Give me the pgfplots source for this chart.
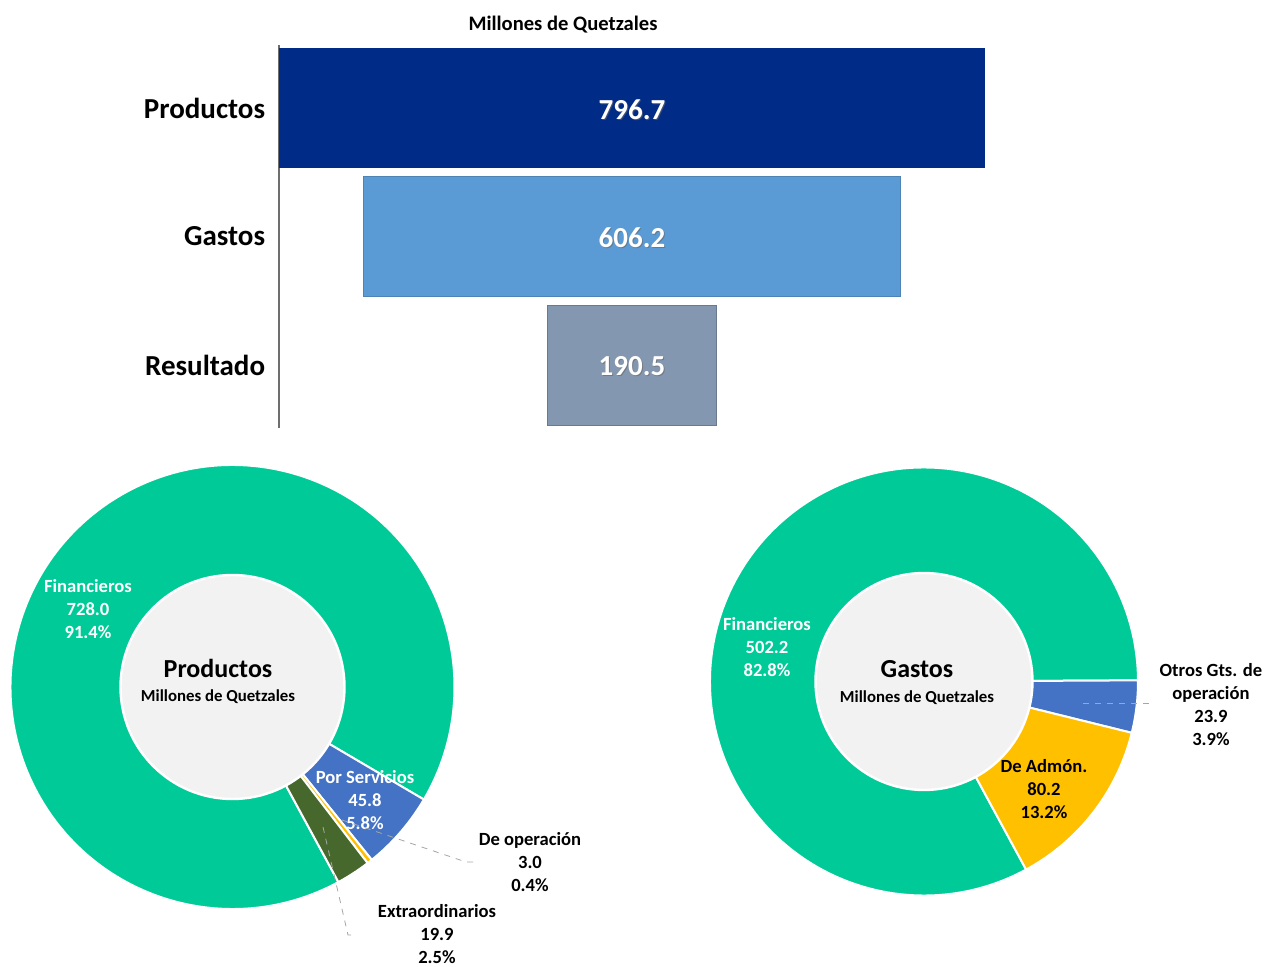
\documentclass[border=0pt]{standalone}
\usepackage{pgfplots}
\pgfplotsset{compat=1.18}
\usepackage{pgfplotstable}
\usepackage{fontspec}
\setmainfont{Carlito}

\definecolor{navy}{RGB}{0,43,135}
\definecolor{lightblue}{RGB}{91,155,213}
\definecolor{slate}{RGB}{132,151,176}
\definecolor{axisgray}{RGB}{110,110,110}
\definecolor{mint}{RGB}{0,203,152}
\definecolor{royal}{RGB}{68,114,196}
\definecolor{amber}{RGB}{255,192,0}
\definecolor{olive}{RGB}{70,104,44}
\definecolor{innergray}{RGB}{242,242,242}

% funnel: one column per bar so that the stacked bars line up by index
\pgfplotstableread{
y total prod gast res
0 796.7 796.7 0 0
1 606.2 0 606.2 0
2 190.5 0 0 190.5
}\funnel

\pgfplotstableread{
label value
Financieros 728.0
Servicios 45.8
Operacion 3.0
Extraordinarios 19.9
}\productos

\pgfplotstableread{
label value
Financieros 502.2
Otros 23.9
Admon 80.2
}\gastos

\newcommand\donutslice[4]{% colour, start angle, end angle, radius
  \fill[#1, draw=white, line width=1pt] (axis cs:0,0) -- ++(#2:#4)
    arc[start angle=#2, end angle=#3, radius=#4] -- cycle;}

\begin{document}
\begin{tikzpicture}
% ---- angles for the two donuts (clockwise from -61.5 deg) ----
\pgfplotstablegetelem{0}{value}\of\productos \let\pa\pgfplotsretval
\pgfplotstablegetelem{1}{value}\of\productos \let\pb\pgfplotsretval
\pgfplotstablegetelem{2}{value}\of\productos \let\pc\pgfplotsretval
\pgfplotstablegetelem{3}{value}\of\productos \let\pd\pgfplotsretval
\pgfmathsetmacro\ptot{\pa+\pb+\pc+\pd}
\pgfmathsetmacro\pAa{-61.5}
\pgfmathsetmacro\pAb{\pAa-360*(\pa/\ptot)}
\pgfmathsetmacro\pAc{\pAb-360*(\pb/\ptot)}
\pgfmathsetmacro\pAd{\pAc-360*(\pc/\ptot)}
\pgfmathsetmacro\pAe{\pAd-360*(\pd/\ptot)}

\pgfplotstablegetelem{0}{value}\of\gastos \let\ga\pgfplotsretval
\pgfplotstablegetelem{1}{value}\of\gastos \let\gb\pgfplotsretval
\pgfplotstablegetelem{2}{value}\of\gastos \let\gc\pgfplotsretval
\pgfmathsetmacro\gtot{\ga+\gb+\gc}
\pgfmathsetmacro\gAa{-61.5}
\pgfmathsetmacro\gAb{\gAa-360*(\ga/\gtot)}
\pgfmathsetmacro\gAc{\gAb-360*(\gb/\gtot)}
\pgfmathsetmacro\gAd{\gAc-360*(\gc/\gtot)}

% ---- funnel ----
\node[font=\fontsize{10.3}{12}\selectfont\bfseries] at (281.5pt,-12.5pt) {Millones de Quetzales};
\begin{axis}[
    at={(139.25pt,-214pt)}, anchor=south west,
    scale only axis, width=353.25pt, height=191.5pt,
    xbar stacked, bar width=60pt,
    xmin=0, xmax=796.7, ymin=-0.49, ymax=2.49, y dir=reverse,
    axis y line*=left, axis x line=none,
    y axis line style={draw=axisgray, line width=1pt},
    ytick={0,1,2}, yticklabels={Productos,Gastos,Resultado},
    major tick length=0pt,
    yticklabel style={font=\fontsize{14.5}{17}\selectfont\bfseries, inner sep=0pt, xshift=-6.5pt},
    clip=false,
  ]
  \addplot[draw=none, fill=none] table[y=y, x expr={(796.7-\thisrow{total})/2}] {\funnel};
  \addplot[draw=none, fill=navy] table[y=y, x=prod] {\funnel};
  \addplot[draw=lightblue!85!black, line width=0.4pt, fill=lightblue] table[y=y, x=gast] {\funnel};
  \addplot[draw=slate!80!black, line width=0.4pt, fill=slate] table[y=y, x=res] {\funnel};
\end{axis}
% bar values, centred on the funnel
\tikzset{val/.style={font=\fontsize{14.5}{17}\selectfont\bfseries}}
\foreach \yy/\vv in {-55/796.7, -119/606.2, -183/190.5}{
  \node[val, text=black!60, opacity=0.6] at (316.5pt,\yy pt-0.5pt) {\vv};
  \node[val, text=white] at (316pt,\yy pt) {\vv};
}

% ---- Productos donut ----
\begin{axis}[
    at={(116.25pt,-343.5pt)}, anchor=center,
    scale only axis, width=222pt, height=222pt,
    xmin=-1, xmax=1, ymin=-1, ymax=1, hide axis, clip=false,
  ]
  \donutslice{mint}{\pAa}{\pAb}{111pt}
  \donutslice{royal}{\pAb}{\pAc}{111pt}
  \donutslice{amber}{\pAc}{\pAd}{111pt}
  \donutslice{olive}{\pAd}{\pAe}{111pt}
  \fill[innergray, draw=white, line width=1.2pt] (axis cs:0,0) circle[radius=56pt];
\end{axis}

% ---- Gastos donut ----
\begin{axis}[
    at={(462pt,-340.75pt)}, anchor=center,
    scale only axis, width=214pt, height=214pt,
    xmin=-1, xmax=1, ymin=-1, ymax=1, hide axis, clip=false,
  ]
  \donutslice{mint}{\gAa}{\gAb}{107pt}
  \donutslice{royal}{\gAb}{\gAc}{107pt}
  \donutslice{amber}{\gAc}{\gAd}{107pt}
  \fill[innergray, draw=white, line width=1.2pt] (axis cs:0,0) circle[radius=54.25pt];
\end{axis}

% ---- donut labels ----
\tikzset{lbl/.style={align=center, font=\fontsize{9.3}{11.5}\selectfont\bfseries, inner sep=0pt}}
\node[lbl, text=white] at (44pt,-304.5pt) {Financieros\\728.0\\91.4\%};
\node[lbl, text=white] at (182.5pt,-400pt) {Por Servicios\\45.8\\5.8\%};
\node[lbl] at (265pt,-431pt) {De operación\\3.0\\0.4\%};
\node[lbl] at (218.5pt,-467pt) {Extraordinarios\\19.9\\2.5\%};
\node[font=\fontsize{13}{15}\selectfont\bfseries] at (109pt,-334pt) {Productos};
\node[font=\fontsize{8.4}{10}\selectfont\bfseries] at (109pt,-348.5pt) {Millones de Quetzales};

\node[lbl, text=white] at (383.5pt,-323.5pt) {Financieros\\502.2\\82.8\%};
\node[lbl] at (522pt,-394.5pt) {De Admón.\\80.2\\13.2\%};
\node[lbl] at (605.5pt,-352.25pt) {Otros Gts. de\\operación\\23.9\\3.9\%};
\node[font=\fontsize{13}{15}\selectfont\bfseries] at (458.5pt,-334.5pt) {Gastos};
\node[font=\fontsize{8.4}{10}\selectfont\bfseries] at (458.5pt,-349pt) {Millones de Quetzales};

% leader lines
\draw[gray!70, dashed, line width=0.4pt] (171pt,-410pt) -- (233pt,-431pt) -- (237pt,-431pt);
\draw[gray!70, dashed, line width=0.4pt] (161.5pt,-413.5pt) -- (174pt,-467.5pt) -- (177.5pt,-467.5pt);
\draw[gray!70, dashed, line width=0.4pt] (541.5pt,-351.5pt) -- (575pt,-351.5pt);

\pgfresetboundingbox
\path (0,0) rectangle (632.5pt,-483.5pt);
\end{tikzpicture}
\end{document}
